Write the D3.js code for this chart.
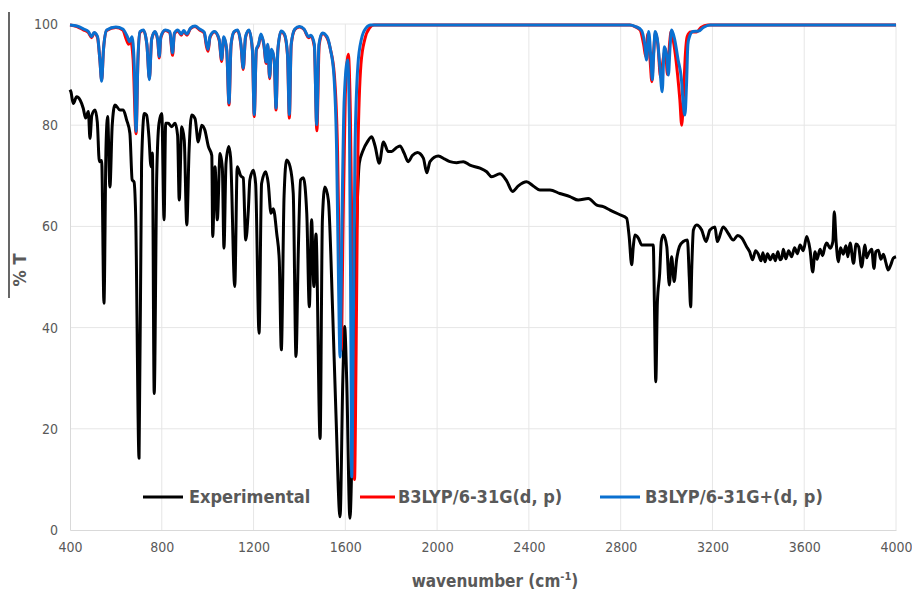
<!DOCTYPE html>
<html>
<head>
<meta charset="utf-8">
<script src="https://cdn.jsdelivr.net/npm/d3@7/dist/d3.min.js"></script>
<style>
  html, body { margin: 0; padding: 0; background: #fff; }
  svg { display: block; }
  .tick-label { font-family: "Liberation Sans Narrow", "DejaVu Sans Condensed", "Arial Narrow", sans-serif; font-size: 14px; fill: #595959; }
  .legend-label, .axis-title { font-family: "Liberation Sans Narrow", "DejaVu Sans Condensed", "Arial Narrow", sans-serif; font-weight: bold; fill: #595959; }
</style>
</head>
<body>
<svg id="chart" width="912" height="594"></svg>
<script>
// Axis ticks
const xTicks = [400, 800, 1200, 1600, 2000, 2400, 2800, 3200, 3600, 4000];
const yTicks = [0, 20, 40, 60, 80, 100];

// Series names and colours
const seriesNames = ["Experimental", "B3LYP/6-31G(d, p)", "B3LYP/6-31G+(d, p)"];
const seriesColors = ["#000000", "#ff0000", "#0a70d0"];

// Experimental FT-IR spectrum: [wavenumber (cm-1), %T]
const experimental = [
  [400, 87.0], [404, 86.6], [414, 84.3], [429, 85.6], [444, 85.0], [458, 83.3], [468, 81.4],
  [480, 82.7], [487, 77.4], [495, 81.9], [509, 83.0], [519, 80.6], [528, 72.8], [538, 73.0],
  [548, 44.8], [557, 75.8], [564, 81.7], [574, 67.8], [584, 80.0], [596, 84.0], [618, 83.0],
  [632, 83.0], [647, 81.0], [661, 78.4], [671, 69.2], [679, 68.8], [686, 62.6], [701, 14.2],
  [712, 72.5], [724, 82.3], [734, 82.0], [744, 77.7], [753, 71.8], [759, 74.5], [767, 27.0],
  [778, 70.0], [788, 80.4], [800, 82.3], [810, 61.3], [817, 80.4], [828, 80.4], [843, 79.7],
  [858, 80.4], [869, 78.0], [876, 65.2], [887, 79.7], [898, 77.0], [909, 60.3], [919, 75.0],
  [930, 82.0], [945, 81.3], [959, 76.7], [974, 80.0], [988, 79.0], [1003, 75.8], [1018, 74.0],
  [1022, 58.0], [1032, 71.8], [1042, 61.3], [1054, 74.4], [1064, 71.5], [1071, 55.7],
  [1080, 72.5], [1092, 75.8], [1100, 73.6], [1118, 48.1], [1129, 71.8], [1144, 70.0],
  [1155, 69.6], [1166, 57.3], [1177, 63.0], [1184, 69.2], [1199, 71.1], [1209, 68.5],
  [1224, 38.9], [1235, 68.5], [1253, 70.8], [1264, 68.5], [1276, 62.6], [1286, 63.5],
  [1301, 58.6], [1312, 53.4], [1321, 35.6], [1333, 66.0], [1344, 73.1], [1359, 71.8],
  [1373, 66.5], [1385, 34.3], [1395, 55.0], [1405, 69.2], [1417, 69.6], [1432, 62.5],
  [1443, 44.1], [1453, 61.3], [1463, 48.1], [1472, 58.5], [1490, 18.1], [1500, 61.3],
  [1511, 67.8], [1526, 65.2], [1545, 42.8], [1559, 23.1], [1577, 2.6], [1589, 29.6],
  [1597, 40.2], [1606, 29.6], [1620, 2.3], [1635, 29.6], [1649, 60.0], [1661, 72.5],
  [1678, 75.1], [1696, 76.7], [1715, 77.7], [1729, 76.0], [1748, 72.5], [1766, 76.7],
  [1787, 74.8], [1802, 74.8], [1821, 75.5], [1838, 75.9], [1856, 74.5], [1874, 72.8],
  [1892, 74.0], [1914, 74.6], [1940, 73.5], [1955, 70.6], [1969, 72.8], [2005, 73.9],
  [2034, 73.3], [2056, 72.8], [2085, 72.6], [2114, 72.8], [2143, 72.1], [2187, 71.5],
  [2216, 70.8], [2238, 69.8], [2274, 70.4], [2303, 69.0], [2329, 66.9], [2354, 68.0],
  [2390, 68.8], [2419, 68.0], [2448, 67.2], [2492, 67.2], [2535, 66.5], [2579, 65.9],
  [2615, 65.2], [2659, 65.5], [2696, 64.2], [2724, 63.9], [2754, 63.2], [2797, 62.3],
  [2826, 61.6], [2837, 58.0], [2848, 52.4], [2855, 56.0], [2862, 58.3], [2877, 57.7],
  [2892, 56.3], [2942, 56.3], [2947, 45.0], [2953, 29.3], [2960, 45.0], [2970, 50.7],
  [2977, 57.0], [2986, 58.3], [3001, 56.0], [3012, 48.4], [3022, 54.0], [3033, 49.1],
  [3044, 53.5], [3056, 56.0], [3073, 57.0], [3091, 57.3], [3099, 50.0], [3105, 44.1],
  [3110, 52.0], [3117, 59.3], [3131, 60.3], [3153, 59.3], [3172, 57.0], [3189, 59.3],
  [3211, 59.9], [3221, 57.0], [3247, 59.9], [3269, 58.6], [3291, 57.3], [3310, 58.2],
  [3328, 57.7], [3349, 56.0], [3362, 55.0], [3375, 53.4], [3388, 55.2], [3400, 54.5],
  [3412, 53.2], [3420, 54.8], [3429, 53.0], [3440, 54.6], [3452, 53.4], [3465, 54.5],
  [3474, 53.2], [3485, 55.0], [3495, 53.4], [3502, 53.7], [3509, 55.5], [3520, 53.6],
  [3532, 55.2], [3545, 54.0], [3558, 55.8], [3570, 54.6], [3582, 56.3], [3596, 55.2],
  [3611, 58.0], [3625, 55.5], [3637, 51.0], [3647, 55.0], [3656, 53.5], [3669, 55.5],
  [3680, 54.2], [3690, 56.0], [3698, 56.7], [3713, 55.7], [3725, 57.0], [3731, 62.9],
  [3739, 57.0], [3749, 53.0], [3758, 55.8], [3770, 54.5], [3782, 56.2], [3790, 54.0],
  [3800, 56.7], [3815, 52.7], [3826, 56.5], [3837, 56.0], [3850, 52.0], [3865, 56.3],
  [3872, 53.8], [3879, 54.5], [3894, 55.5], [3904, 51.7], [3912, 55.0], [3923, 55.3],
  [3934, 53.5], [3945, 54.5], [3955, 53.0], [3966, 51.4], [3978, 52.5], [3988, 53.7],
  [4000, 54.0]
];

// Calculated spectrum, B3LYP/6-31G(d, p): [wavenumber (cm-1), %T]
const calcG = [
  [400, 99.8], [430, 99.5], [460, 98.8], [480, 98.3], [494, 97.3], [505, 98.2], [520, 97.3],
  [530, 93.0], [538, 88.9], [546, 95.0], [560, 98.7], [600, 99.3], [630, 98.8], [645, 97.0],
  [655, 96.0], [665, 96.5], [675, 93.0], [688, 78.3], [696, 92.5], [705, 98.3], [720, 98.7],
  [735, 96.0], [746, 89.2], [756, 97.0], [770, 98.4], [782, 96.8], [789, 93.3], [796, 97.3],
  [815, 98.7], [835, 98.3], [847, 93.8], [855, 98.0], [870, 98.6], [885, 97.8], [895, 98.5],
  [910, 97.8], [925, 99.1], [945, 99.5], [965, 98.8], [985, 98.2], [995, 95.5], [1002, 94.6],
  [1010, 97.3], [1030, 98.4], [1050, 96.8], [1061, 92.6], [1070, 97.3], [1083, 94.8],
  [1093, 84.0], [1102, 95.8], [1115, 98.4], [1130, 98.7], [1145, 95.8], [1155, 91.0],
  [1165, 97.3], [1180, 98.7], [1195, 94.8], [1203, 81.7], [1212, 94.8], [1222, 95.8],
  [1232, 97.8], [1245, 95.8], [1255, 92.2], [1262, 95.8], [1270, 89.2], [1278, 94.8],
  [1290, 92.8], [1298, 83.0], [1306, 94.8], [1320, 98.5], [1335, 97.8], [1348, 93.8],
  [1356, 81.4], [1364, 95.8], [1380, 98.9], [1400, 99.4], [1420, 98.9], [1440, 97.3],
  [1450, 97.6], [1465, 95.5], [1476, 78.9], [1486, 95.8], [1500, 98.1], [1520, 97.3],
  [1535, 95.0], [1552, 90.0], [1566, 75.0], [1575, 50.0], [1582, 35.5], [1590, 60.0],
  [1600, 86.0], [1613, 94.0], [1622, 82.0], [1632, 45.0], [1640, 10.0], [1647, 35.0],
  [1655, 75.0], [1668, 92.0], [1685, 97.0], [1705, 99.2], [1725, 99.8], [2840, 99.8],
  [2862, 99.5], [2885, 98.8], [2900, 96.0], [2910, 93.5], [2918, 98.0], [2928, 93.0],
  [2936, 88.6], [2943, 94.0], [2952, 98.3], [2962, 96.0], [2974, 89.5], [2985, 93.0],
  [2995, 95.0], [3004, 90.0], [3013, 96.0], [3020, 98.5], [3032, 96.0], [3048, 90.0],
  [3058, 85.0], [3066, 80.0], [3074, 86.0], [3082, 94.0], [3090, 97.5], [3105, 98.4],
  [3130, 98.4], [3150, 99.3], [3180, 99.8], [4000, 99.8]
];

// Calculated spectrum, B3LYP/6-31G+(d, p): [wavenumber (cm-1), %T]
const calcGplus = [
  [400, 99.8], [430, 99.6], [460, 99.0], [480, 98.5], [494, 97.5], [505, 98.3], [520, 97.5],
  [530, 93.0], [538, 88.7], [546, 95.0], [560, 98.8], [600, 99.4], [630, 99.0], [650, 97.5],
  [660, 96.5], [670, 97.5], [680, 92.0], [688, 78.8], [696, 93.0], [705, 98.5], [720, 98.8],
  [735, 96.0], [746, 89.0], [756, 97.0], [770, 98.5], [782, 97.0], [789, 93.6], [796, 97.5],
  [815, 98.8], [835, 98.5], [847, 94.3], [855, 98.2], [870, 98.8], [885, 98.0], [895, 98.7],
  [910, 98.0], [925, 99.2], [945, 99.6], [965, 99.0], [985, 98.4], [995, 96.0], [1002, 95.0],
  [1010, 97.5], [1030, 98.5], [1050, 97.0], [1061, 93.0], [1070, 97.5], [1083, 95.0],
  [1093, 84.4], [1102, 96.0], [1115, 98.5], [1130, 98.8], [1145, 96.0], [1155, 91.3],
  [1165, 97.5], [1180, 98.8], [1195, 95.0], [1203, 82.1], [1212, 95.0], [1222, 96.0],
  [1232, 98.0], [1245, 96.0], [1255, 92.5], [1262, 96.0], [1270, 89.5], [1278, 95.0],
  [1290, 93.0], [1298, 83.4], [1306, 95.0], [1320, 98.6], [1335, 98.0], [1348, 94.0],
  [1356, 82.1], [1364, 96.0], [1380, 99.0], [1400, 99.5], [1420, 99.0], [1440, 97.5],
  [1450, 97.8], [1465, 96.0], [1475, 80.1], [1485, 96.0], [1500, 98.2], [1520, 97.5],
  [1535, 95.0], [1550, 90.0], [1562, 75.0], [1570, 50.0], [1577, 34.2], [1585, 60.0],
  [1595, 85.0], [1610, 92.9], [1618, 80.0], [1624, 40.0], [1628, 10.5], [1634, 35.0],
  [1642, 75.0], [1655, 92.0], [1670, 97.0], [1690, 99.2], [1710, 99.8], [2840, 99.8],
  [2865, 99.5], [2890, 98.8], [2905, 96.0], [2913, 92.9], [2922, 98.5], [2932, 93.0],
  [2938, 89.0], [2944, 94.0], [2950, 98.5], [2960, 97.0], [2970, 92.0], [2981, 86.6],
  [2990, 95.5], [3000, 94.0], [3008, 89.9], [3016, 96.0], [3022, 98.8], [3035, 97.0],
  [3050, 93.0], [3065, 89.0], [3073, 84.0], [3080, 82.0], [3087, 88.0], [3093, 96.0],
  [3100, 97.5], [3115, 98.5], [3140, 98.6], [3160, 99.3], [3190, 99.8], [4000, 99.8]
];

const svg = d3.select("#chart");
const margin = { left: 70, right: 16, top: 24, bottom: 64 };
const W = 912, H = 594;

const x = d3.scaleLinear().domain([400, 4000]).range([margin.left, W - margin.right]);
const y = d3.scaleLinear().domain([0, 100]).range([H - margin.bottom, margin.top]);

// Gridlines
const grid = svg.append("g");
grid.selectAll("line.h").data(yTicks.filter(d => d > 0)).join("line")
  .attr("x1", x(400)).attr("x2", x(4000))
  .attr("y1", d => y(d)).attr("y2", d => y(d))
  .attr("stroke", "#e6e6e6").attr("stroke-width", 1);
grid.selectAll("line.v").data(xTicks.filter(d => d > 400)).join("line")
  .attr("x1", d => x(d)).attr("x2", d => x(d))
  .attr("y1", y(0)).attr("y2", y(100))
  .attr("stroke", "#e6e6e6").attr("stroke-width", 1);

// Axes
const xAxis = svg.append("g").attr("transform", `translate(0,${y(0)})`)
  .call(d3.axisBottom(x).tickValues(xTicks).tickSize(0).tickPadding(12).tickFormat(d3.format("d")));
const yAxis = svg.append("g").attr("transform", `translate(${x(400)},0)`)
  .call(d3.axisLeft(y).tickValues(yTicks).tickSize(0).tickPadding(12));
[xAxis, yAxis].forEach(g => {
  g.select(".domain").attr("stroke", "#d9d9d9").attr("stroke-width", 1);
  g.selectAll("text").attr("class", "tick-label").attr("fill", null);
});

// Spectra
const line = d3.line().x(d => x(d[0])).y(d => y(d[1])).curve(d3.curveMonotoneX);
const series = [experimental, calcG, calcGplus];
svg.append("g").selectAll("path").data(series).join("path")
  .attr("d", line)
  .attr("fill", "none")
  .attr("stroke", (d, i) => seriesColors[i])
  .attr("stroke-width", 3)
  .attr("stroke-linejoin", "round");

// Legend
const legendItems = [
  { x0: 143, x1: 183, tx: 189 },
  { x0: 360, x1: 395, tx: 398 },
  { x0: 600, x1: 640, tx: 645 }
];
const legend = svg.append("g");
legendItems.forEach((it, i) => {
  legend.append("line").attr("x1", it.x0).attr("x2", it.x1).attr("y1", 497).attr("y2", 497)
    .attr("stroke", seriesColors[i]).attr("stroke-width", 3);
  legend.append("text").attr("class", "legend-label").attr("x", it.tx).attr("y", 503)
    .attr("font-size", 18).text(seriesNames[i]);
});

// Axis titles
const xt = svg.append("text").attr("class", "axis-title").attr("x", 495).attr("y", 587)
  .attr("text-anchor", "middle").attr("font-size", 17);
xt.append("tspan").text("wavenumber (cm");
xt.append("tspan").attr("dy", -7).attr("font-size", 11).text("-1");
xt.append("tspan").attr("dy", 7).text(")");

svg.append("text").attr("class", "axis-title").attr("font-size", 18)
  .attr("transform", "translate(26,270) rotate(-90)").attr("text-anchor", "middle").text("% T");
svg.append("line").attr("x1", 9).attr("x2", 9).attr("y1", 12).attr("y2", 298)
  .attr("stroke", "#000").attr("stroke-width", 1.2);
</script>
</body>
</html>
